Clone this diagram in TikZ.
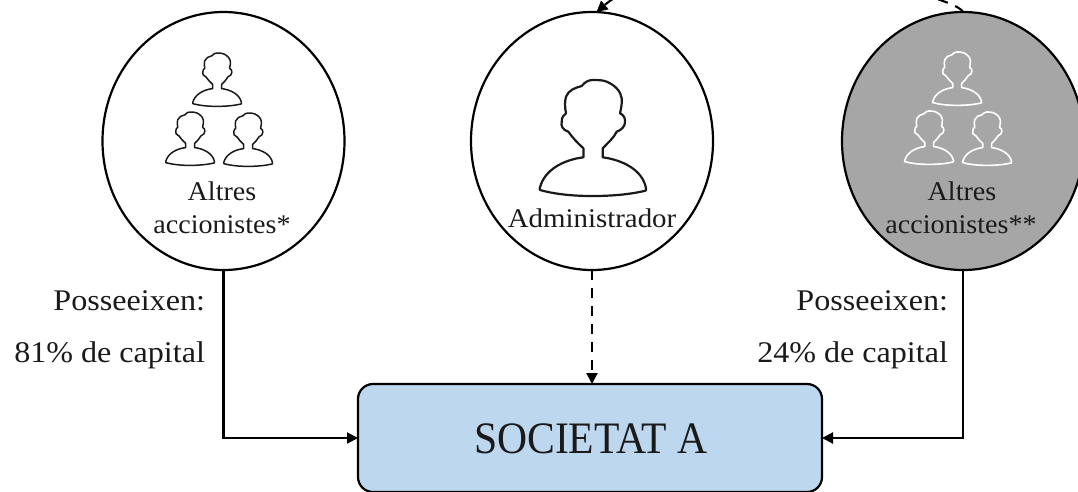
\documentclass[tikz,border=0pt]{standalone}
\usepackage{fontspec}
\setmainfont{Liberation Serif}
\newfontfamily\widef[FakeStretch=1.07]{Liberation Serif}
\newfontfamily\midf[FakeStretch=1.04]{Liberation Serif}
\newfontfamily\narrowf[FakeStretch=0.925]{Liberation Serif}
\usetikzlibrary{arrows.meta,shapes.geometric}
\definecolor{boxblue}{HTML}{BDD7EE}
\definecolor{circgrey}{HTML}{A6A6A6}
\definecolor{ink}{HTML}{1A1A1A}
\tikzset{
  circ/.style={ellipse,draw=black,line width=2.2pt,minimum width=242pt,minimum height=258pt,inner sep=0pt,outer sep=0pt},
  lab/.style={anchor=base,inner sep=0pt,outer sep=0pt,text=ink,font=\midf\fontsize{27}{32}\selectfont},
  admlab/.style={anchor=base,inner sep=0pt,outer sep=0pt,text=ink,font=\widef\fontsize{27}{32}\selectfont},
  sidelab/.style={anchor=base east,inner sep=0pt,outer sep=0pt,text=ink,font=\widef\fontsize{30}{36}\selectfont},
  conn/.style={line width=2.1pt,-{Triangle[length=11pt,width=11pt]}},
  dconn/.style={conn,dash pattern=on 10pt off 8pt},
  person/.pic={
    \draw[pic actions,line join=round]
      (10,68.3) -- (10,77.3)
      .. controls (30,80) and (50,90) .. (53.3,108.3)
      .. controls (54,110) and (53,110.5) .. (52.7,110.7)
      .. controls (35,115) and (15,116) .. (0,116)
      .. controls (-15,116) and (-35,115) .. (-52.7,110)
      .. controls (-53.5,109.5) and (-53,108) .. (-52.7,107.3)
      .. controls (-48,90) and (-30,80) .. (-9.3,77.3)
      -- (-9.3,68.3)
      .. controls (-15,63) and (-20,58) .. (-24.3,51.7)
      .. controls (-30,50) and (-32,46) .. (-31,41.7)
      .. controls (-31,37) and (-29,35) .. (-26.7,33.3)
      .. controls (-28,27) and (-28,21) .. (-26.7,16.7)
      .. controls (-24,10) and (-18,8) .. (-11,6)
      .. controls (-8,2) and (-4,0) .. (0,0)
      .. controls (5,0) and (10,0) .. (14,1.7)
      .. controls (22,5) and (28,11) .. (29,18.3)
      .. controls (29.5,23) and (28.5,28) .. (27.3,33.3)
      .. controls (31,35) and (32.5,38) .. (32.3,41.7)
      .. controls (32.5,46) and (29,50) .. (24,51.7)
      .. controls (21,58) and (15,63) .. (10,68.3) -- cycle;
  }
}
\begin{document}
\begin{tikzpicture}[x=1pt,y=-1pt]
\useasboundingbox (0,0) rectangle (1078,491);
\clip (0,0) rectangle (1078,491);
\node[circ] (alt1) at (223.5,141) {};
\node[circ] (adm) at (592,141) {};
\node[circ,fill=circgrey] (alt2) at (963,141) {};
\node[draw=black,line width=2.2pt,fill=boxblue,rounded corners=15pt,minimum width=464pt,minimum height=108pt,inner sep=0pt,outer sep=0pt] (soc) at (590,438) {};
\node[anchor=base,inner sep=0pt,text=ink,font=\narrowf\fontsize{45}{54}\selectfont] (soctext) at (591,453) {SOCIETAT A};
% icons
\pic[line width=1.5pt,draw=ink,scale=.46] at (217,53) {person};
\pic[line width=1.5pt,draw=ink,scale=.46] at (190,112) {person};
\pic[line width=1.5pt,draw=ink,scale=.46] at (248,113) {person};
\pic[line width=2.2pt,draw=ink,scale=1] at (592.7,80) {person};
\pic[line width=1.6pt,draw=white,scale=.46] at (957,52) {person};
\pic[line width=1.6pt,draw=white,scale=.46] at (929,111) {person};
\pic[line width=1.6pt,draw=white,scale=.46] at (987,112) {person};
% labels
\node[lab] (a1) at (222,200) {Altres};
\node[lab] (a2) at (222,233) {accionistes*};
\node[lab] (b1) at (962,200) {Altres};
\node[lab] (b2) at (961,233) {accionistes**};
\node[admlab] (adml) at (592,227) {Administrador};
\node[sidelab] (p1) at (205,310) {Posseeixen:};
\node[sidelab] (c1) at (205,362) {81\% de capital};
\node[sidelab] (p2) at (948,310) {Posseeixen:};
\node[sidelab] (c2) at (948,362) {24\% de capital};
% connectors
\draw[conn] (alt1.south) |- (soc.west);
\draw[conn] (alt2.south) |- (soc.east);
\draw[dconn] (adm.south) -- (adm.south |- soc.north);
\draw[dconn] (alt2.north) .. controls (952,-10) and (680,-60) .. (adm.88);
\end{tikzpicture}
\end{document}
